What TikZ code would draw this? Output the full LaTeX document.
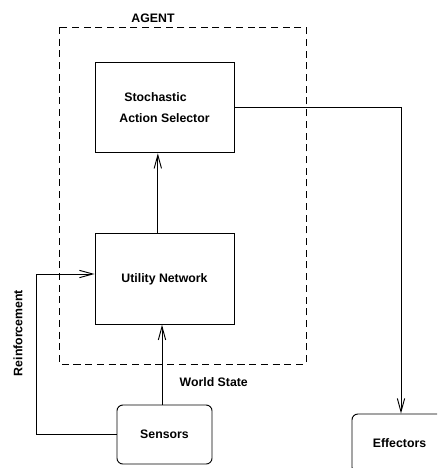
\documentclass[tikz,border=0pt]{standalone}
\usepackage{fontspec}
\setmainfont{Liberation Sans}
\usetikzlibrary{arrows.meta}

\begin{document}
\begin{tikzpicture}[x=0.03cm, y=-0.03cm,
        every node/.style={font=\bfseries\fontsize{10.5}{18}\selectfont},
        box/.style={draw, line width=0.8pt, minimum width=4.17cm, minimum height=2.72cm, inner sep=0pt},
        roundbox/.style={draw, line width=0.8pt, rounded corners=5pt, minimum width=2.85cm, minimum height=1.77cm, inner sep=0pt},
        link/.style={line width=0.8pt, -{Straight Barb[length=4mm, width=2.2mm]}}]
        \useasboundingbox (0,0) rectangle (437,468);
        \clip (0,0) rectangle (437,468);

        % agent boundary
        \draw[line width=0.8pt, dash pattern=on 6pt off 4pt] (59,27) rectangle (306,364);
        \node (agent) at (153,18) {AGENT};

        \node[box, align=left] (stoch) at (164.5,107.5) {\hspace*{1.5mm}Stochastic\\Action Selector};
        \node[box] (utility) at (164.5,279) {Utility Network};
        \node[roundbox] (sensors) at (164.5,434.5) {Sensors};
        \node[roundbox] (effectors) at (399.5,443.5) {Effectors};
        \coordinate (rein) at (36,0);

        \draw[link] ([xshift=-2mm]utility.north) -- ([xshift=-2mm]stoch.south);
        \draw[link] ([xshift=-0.75mm]sensors.north) -- ([xshift=-0.75mm]utility.south)
                node[pos=0.28, right=4mm] (world) {World State};
        \draw[link] (sensors.west) -- (sensors.west -| rein) |- ([yshift=1.5mm]utility.west);
        \draw[link] (stoch.east) -| ([xshift=0.45mm]effectors.north);

        \node[rotate=90] (reinlabel) at (18,333) {Reinforcement};
    \end{tikzpicture}
\end{document}
